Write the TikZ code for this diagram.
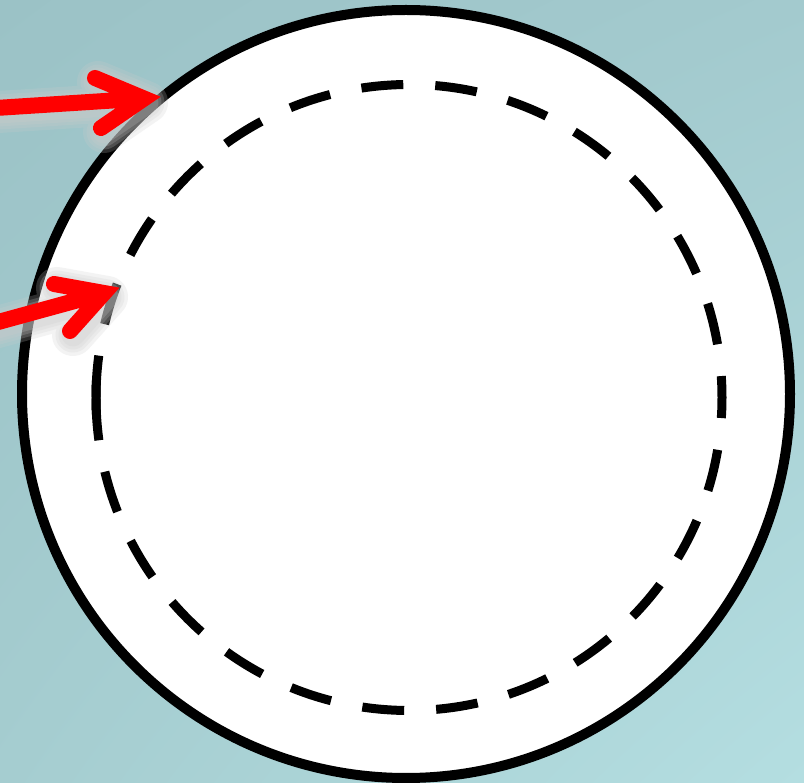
\documentclass[tikz,border=0pt]{standalone}
\usepackage{tikz}
\usetikzlibrary{calc, shadings}
\definecolor{C_TL}{HTML}{9BC2C6}
\definecolor{C_TR}{HTML}{A3CACE}
\definecolor{C_BL}{HTML}{A5CDD0}
\definecolor{C_BR}{HTML}{B4DEE1}
\definecolor{C_ARROW}{HTML}{FF0000}

\begin{document}
\begin{tikzpicture}[
  x=1pt, y=1pt,
  rim/.style={draw=black, line width=10pt, fill=white},
  track/.style={draw=black, line width=9pt, dash pattern=on 42pt off 32pt},
  pointer/.style={draw=C_ARROW, line width=16pt, line cap=round, line join=miter},
  halo/.style={draw=gray!40, line cap=round, line join=round, opacity=0.22},
]
\useasboundingbox (0,0) rectangle (804,-783);
\clip (0,0) rectangle (804,-783);

%% Background
\shade[upper left=C_TL, upper right=C_TR, lower left=C_BL, lower right=C_BR]
  (0,0) rectangle (804,-783);

%% Rings
\coordinate (hub)  at (406,-394);
\coordinate (core) at (409,-397.5);
\draw[rim] (hub) circle[radius=384];
\draw[track] ($(core)+(180:313)$) arc[start angle=180, end angle=-180, radius=313];
\draw[track, solid] ($(core)+(183:313)$) arc[start angle=183, end angle=177, radius=313];

%% Arrows
\coordinate (tailA)  at (-20,-109);
\coordinate (tipA)   at (144,-98.5);
\coordinate (barbA1) at (95,-78);
\coordinate (barbA2) at (101,-128);
\coordinate (tailB)  at (-20,-327);
\coordinate (tipB)   at (104,-293);
\coordinate (barbB1) at (54,-284);
\coordinate (barbB2) at (70,-331);

%% Shadow behind the arrows
\begin{scope}[transform canvas={shift={(3,-4)}}]
  \foreach \a in {A,B} {
    \foreach \w in {42,35,29,23} {
      \draw[halo, line width=\w pt] (tail\a) -- (tip\a) (barb\a1) -- (tip\a) -- (barb\a2);
    }
  }
\end{scope}

\foreach \a in {A,B} {
  \draw[pointer] (tail\a) -- (tip\a) (barb\a1) -- (tip\a) -- (barb\a2);
}

\end{tikzpicture}
\end{document}
